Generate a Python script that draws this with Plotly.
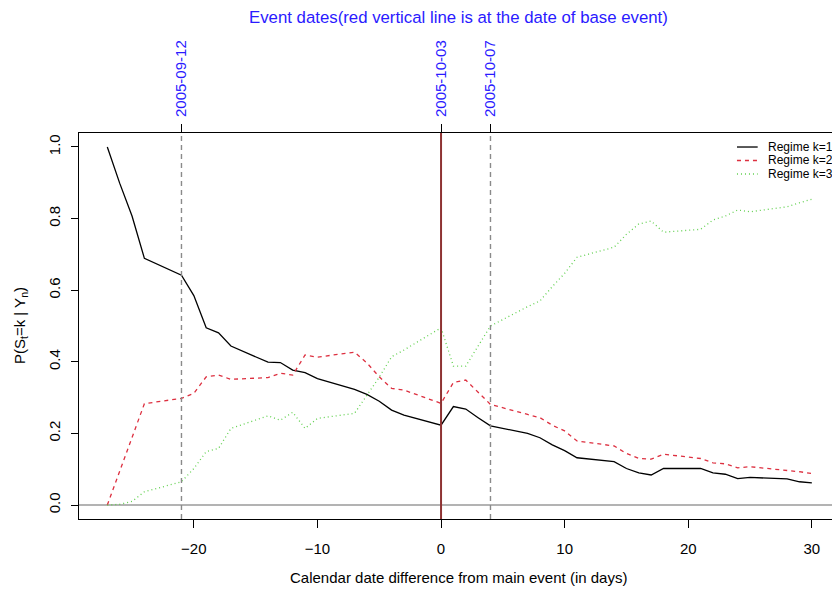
import plotly.graph_objects as go

# ---- data ----
days = [-27, -26, -25, -24, -21, -20, -19, -18, -17, -14, -13, -12, -11, -10,
        -7, -6, -5, -4, -3, 0, 1, 2, 3, 4, 7, 8, 9, 10, 11, 14, 15, 16, 17, 18,
        21, 22, 23, 24, 25, 28, 29, 30]

regime1 = [1.000, 0.899, 0.807, 0.689, 0.642, 0.585, 0.495, 0.481, 0.444, 0.399,
           0.398, 0.377, 0.370, 0.353, 0.323, 0.309, 0.290, 0.265, 0.251, 0.223,
           0.275, 0.268, 0.244, 0.221, 0.200, 0.188, 0.168, 0.152, 0.132, 0.121,
           0.102, 0.090, 0.084, 0.102, 0.102, 0.090, 0.086, 0.074, 0.077, 0.073,
           0.065, 0.062]

regime2 = [0.000, 0.095, 0.187, 0.283, 0.298, 0.312, 0.358, 0.363, 0.351, 0.356,
           0.368, 0.363, 0.419, 0.413, 0.427, 0.397, 0.358, 0.326, 0.321, 0.284,
           0.342, 0.349, 0.315, 0.281, 0.253, 0.244, 0.223, 0.207, 0.179, 0.165,
           0.144, 0.130, 0.128, 0.142, 0.130, 0.118, 0.115, 0.104, 0.107, 0.098,
           0.093, 0.088]

regime3 = [0.000, 0.002, 0.010, 0.037, 0.065, 0.102, 0.149, 0.158, 0.214, 0.249,
           0.237, 0.259, 0.214, 0.242, 0.256, 0.307, 0.357, 0.414, 0.433, 0.495,
           0.388, 0.388, 0.444, 0.500, 0.554, 0.570, 0.610, 0.647, 0.692, 0.720,
           0.756, 0.785, 0.793, 0.762, 0.770, 0.796, 0.807, 0.824, 0.819, 0.833,
           0.844, 0.854]

event_days = [-21, 0, 4]
event_labels = ["2005-09-12", "2005-10-03", "2005-10-07"]
base_event_day = 0

x_ticks = [-20, -10, 0, 10, 20, 30]
y_ticks = [0.0, 0.2, 0.4, 0.6, 0.8, 1.0]

series_names = ["Regime k=1", "Regime k=2", "Regime k=3"]
series_colors = ["#000000", "#DD3040", "#61D04F"]
series_dash = ["solid", "4px,4px", "1px,3px"]

FONT = "Liberation Sans, Arial, Helvetica, sans-serif"
BLUE = "#2a1aff"
TICK_SIZE = 15

fig = go.Figure()
for name, vals, col, dsh in zip(series_names, [regime1, regime2, regime3],
                                series_colors, series_dash):
    fig.add_trace(go.Scatter(x=days, y=vals, mode="lines", name=name,
                             line=dict(color=col, width=1.3, dash=dsh),
                             showlegend=False, hoverinfo="x+y"))

# invisible trace to attach the top axis
fig.add_trace(go.Scatter(x=event_days, y=[None] * len(event_days), xaxis="x2",
                         mode="lines", showlegend=False, hoverinfo="skip"))

shapes = []
# horizontal zero line
shapes.append(dict(type="line", xref="paper", yref="y", x0=0, x1=1, y0=0, y1=0,
                   line=dict(color="#9a9a9a", width=1.5), layer="below"))
# event lines
for d in event_days:
    if d == base_event_day:
        shapes.append(dict(type="line", xref="x", yref="paper", x0=d, x1=d, y0=0, y1=1,
                           line=dict(color="#8E3232", width=2)))
    else:
        shapes.append(dict(type="line", xref="x", yref="paper", x0=d, x1=d, y0=0, y1=1,
                           line=dict(color="#8a8a8a", width=1.4, dash="5px,4px")))

# manual legend (R style, no box)
annotations = []
leg_y = [0.9637, 0.9288, 0.8938]
for name, col, dsh, yy in zip(series_names, series_colors, series_dash, leg_y):
    shapes.append(dict(type="line", xref="paper", yref="paper", x0=0.8738, x1=0.9013,
                       y0=yy, y1=yy, line=dict(color=col, width=1.3, dash=dsh)))
    annotations.append(dict(xref="paper", yref="paper", x=0.913, y=yy, text=name,
                            showarrow=False, xanchor="left", yanchor="middle",
                            font=dict(family=FONT, size=12, color="#000")))

# title
annotations.append(dict(xref="paper", yref="paper", x=0.5046, y=1.3005,
                        text="Event dates(red vertical line is at the date of base event)",
                        showarrow=False, xanchor="center", yanchor="middle",
                        font=dict(family=FONT, size=16.8, color=BLUE)))
# x title
annotations.append(dict(xref="paper", yref="paper", x=0.5046, y=-0.1528,
                        text="Calendar date difference from main event (in days)",
                        showarrow=False, xanchor="center", yanchor="middle",
                        font=dict(family=FONT, size=15, color="#000")))
# y title
annotations.append(dict(xref="paper", yref="paper", x=-0.0783, y=0.5,
                        text="P(S<sub>t</sub>=k | Y<sub>n</sub>)", textangle=-90,
                        showarrow=False, xanchor="center", yanchor="middle",
                        font=dict(family=FONT, size=15, color="#000")))

fig.update_layout(
    template="none",
    width=832, height=590,
    margin=dict(l=79, r=0, t=133, b=71, autoexpand=False),
    paper_bgcolor="white", plot_bgcolor="white",
    font=dict(family=FONT, size=12, color="#000"),
    shapes=shapes, annotations=annotations,
    xaxis=dict(range=[-29.29, 31.63], tickvals=x_ticks, automargin=False,
               ticktext=[("\u2212" + str(-t)) if t < 0 else str(t) for t in x_ticks],
               ticks="outside", ticklen=8, tickwidth=1, tickcolor="#000",
               showline=True, linecolor="#000", linewidth=1.3, mirror=True,
               showgrid=False, zeroline=False, ticklabelstandoff=8,
               tickfont=dict(family=FONT, size=TICK_SIZE, color="#000")),
    xaxis2=dict(range=[-29.29, 31.63], overlaying="x", side="top", anchor="y",
                automargin=False,
                tickvals=event_days, ticktext=event_labels, tickangle=-90,
                ticks="outside", ticklen=8, tickwidth=1, tickcolor="#000",
                showline=False, showgrid=False, zeroline=False, ticklabelstandoff=4,
                tickfont=dict(family=FONT, size=TICK_SIZE, color=BLUE)),
    yaxis=dict(range=[-0.039, 1.039], tickvals=y_ticks, automargin=False,
               ticktext=["%.1f" % v for v in y_ticks], tickangle=-90,
               ticks="outside", ticklen=7, tickwidth=1, tickcolor="#000",
               showline=True, linecolor="#000", linewidth=1.3, mirror=False,
               showgrid=False, zeroline=False, ticklabelstandoff=5,
               tickfont=dict(family=FONT, size=TICK_SIZE, color="#000")),
)

fig.write_html(
    "out.html",
    config={"displayModeBar": False},
    post_script="document.body.style.margin='0';document.body.style.overflow='hidden';",
)
